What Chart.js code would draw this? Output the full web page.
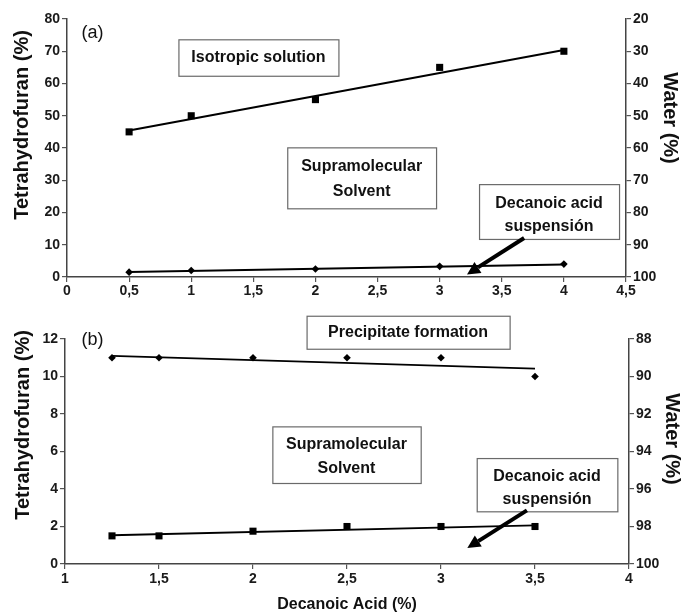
<!DOCTYPE html>
<html><head><meta charset="utf-8">
<script src="https://cdn.jsdelivr.net/npm/chart.js@4"></script>
<style>
html,body{margin:0;padding:0;background:#fff;}
#wrap{position:relative;width:684px;height:614px;}
canvas{position:absolute;left:0;}
#c1{top:0}
#c2{top:300px}
</style></head><body>
<div id="wrap"><canvas id="c1" width="684" height="300"></canvas><canvas id="c2" width="684" height="314"></canvas></div>
<script>
// ---------- data ----------
const topAcid = [0.5, 1, 2, 3, 4];
const topIsotropicTHF = [45, 50, 55, 65, 70];
const topSuspensionTHF = [1.5, 2, 2.5, 3.3, 4];
const topTrendAcid = [0.5, 4];
const topIsotropicTrend = [45.4, 70.4];
const topSuspensionTrend = [1.55, 3.9];

const bottomAcid = [1.25, 1.5, 2, 2.5, 3, 3.5];
const bottomPrecipitateTHF = [11, 11, 11, 11, 11, 10];
const bottomSuspensionTHF = [1.5, 1.5, 1.75, 2, 2, 2];
const bottomTrendAcid = [1.25, 3.5];
const bottomPrecipitateTrend = [11.1, 10.42];
const bottomSuspensionTrend = [1.53, 2.06];

// tick values
const topXTicks = [0, 0.5, 1, 1.5, 2, 2.5, 3, 3.5, 4, 4.5];
const topYTicks = [0, 10, 20, 30, 40, 50, 60, 70, 80];
const topWaterTicks = [20, 30, 40, 50, 60, 70, 80, 90, 100];
const bottomXTicks = [1, 1.5, 2, 2.5, 3, 3.5, 4];
const bottomYTicks = [0, 2, 4, 6, 8, 10, 12];
const bottomWaterTicks = [88, 90, 92, 94, 96, 98, 100];

// ---------- helpers ----------
const FONT = "'Liberation Sans', Arial, Helvetica, sans-serif";
const fmt = v => (Math.round(v * 100) / 100).toString().replace('.', ',');
const pts = (xs, ys) => xs.map((x, i) => ({x, y: ys[i]}));

function axisY(ticks, pos, extra) {
  return Object.assign({
    type: 'linear', position: pos,
    min: ticks[0], max: ticks[ticks.length - 1],
    afterBuildTicks: s => { s.ticks = ticks.map(v => ({value: v})); },
    ticks: {font: {family: FONT, size: 14, weight: 'bold'}, color: '#1a1a1a', padding: 2, callback: v => fmt(v)},
    grid: {drawOnChartArea: false, drawTicks: true, tickLength: 5, color: '#555', lineWidth: 1.2},
    border: {display: true, color: '#444', width: 1.5}
  }, extra || {});
}
function axisX(ticks, pad, h, title) {
  return {
    type: 'linear', position: 'bottom',
    min: ticks[0], max: ticks[ticks.length - 1],
    afterBuildTicks: s => { s.ticks = ticks.map(v => ({value: v})); },
    afterFit: s => { s.height = h; },
    ticks: {font: {family: FONT, size: 14, weight: 'bold'}, color: '#1a1a1a', padding: pad, maxRotation: 0, autoSkip: false, callback: v => fmt(v)},
    grid: {drawOnChartArea: false, drawTicks: true, tickLength: 5, color: '#555', lineWidth: 1.2},
    border: {display: true, color: '#444', width: 1.5},
    title: title ? {display: true, text: title, font: {family: FONT, size: 16, weight: 'bold'}, color: '#111', padding: {top: 0, bottom: 0}} : {display: false}
  };
}

function annotations(cfg) {
  return {
    id: 'annot',
    afterDatasetsDraw(chart) {
      const ctx = chart.ctx, xs = chart.scales.x, ys = chart.scales.y;
      const px = v => xs.getPixelForValue(v), py = v => ys.getPixelForValue(v);
      ctx.save();
      cfg.boxes.forEach(b => {
        const x0 = px(b.x0), x1 = px(b.x1), y0 = py(b.y0), y1 = py(b.y1);
        ctx.fillStyle = '#fff';
        ctx.fillRect(x0, y0, x1 - x0, y1 - y0);
        ctx.strokeStyle = '#6a6a6a'; ctx.lineWidth = 1.2;
        ctx.strokeRect(x0 + 0.5, y0 + 0.5, x1 - x0, y1 - y0);
        ctx.fillStyle = '#111';
        ctx.font = 'bold 16px ' + FONT;
        ctx.textAlign = 'center'; ctx.textBaseline = 'middle';
        b.lines.forEach(l => ctx.fillText(l.t, px(l.x), py(l.y)));
      });
      cfg.arrows.forEach(a => {
        const x0 = px(a.x0), y0 = py(a.y0), x1 = px(a.x1), y1 = py(a.y1);
        const ang = Math.atan2(y1 - y0, x1 - x0), hl = 13, hw = 6.5;
        const bx = x1 - Math.cos(ang) * hl, by = y1 - Math.sin(ang) * hl;
        ctx.strokeStyle = '#000'; ctx.lineWidth = 4; ctx.lineCap = 'butt';
        ctx.beginPath(); ctx.moveTo(x0, y0); ctx.lineTo(bx, by); ctx.stroke();
        ctx.fillStyle = '#000';
        ctx.beginPath();
        ctx.moveTo(x1, y1);
        ctx.lineTo(bx + Math.sin(ang) * hw, by - Math.cos(ang) * hw);
        ctx.lineTo(bx - Math.sin(ang) * hw, by + Math.cos(ang) * hw);
        ctx.closePath(); ctx.fill();
      });
      ctx.fillStyle = '#111';
      ctx.font = '18px ' + FONT;
      ctx.textAlign = 'center'; ctx.textBaseline = 'middle';
      ctx.fillText(cfg.panel.t, px(cfg.panel.x), py(cfg.panel.y));
      ctx.restore();
    },
    afterDraw(chart) {
      const ctx = chart.ctx;
      ctx.save();
      ctx.fillStyle = '#111';
      ctx.font = 'bold 20px ' + FONT;
      ctx.textAlign = 'center'; ctx.textBaseline = 'middle';
      cfg.titles.forEach(t => {
        ctx.save(); ctx.translate(t.x, t.y); ctx.rotate(t.rot); ctx.fillText(t.t, 0, 0); ctx.restore();
      });
      ctx.restore();
    }
  };
}

function datasets(xs, a, b, tx, ta, tb, styleA, styleB) {
  const mk = (data, style) => ({data: pts(xs, data), showLine: false, pointStyle: style, pointRadius: style === 'rect' ? 5 : 3.8,
    pointBackgroundColor: '#000', pointBorderColor: '#000', pointBorderWidth: 0, borderColor: '#000'});
  const tr = data => ({data: pts(tx, data), showLine: true, pointRadius: 0, borderColor: '#000', borderWidth: 2, fill: false});
  return [tr(ta), tr(tb), mk(a, styleA), mk(b, styleB)];
}

const common = {
  responsive: false, animation: false, devicePixelRatio: 1,
  plugins: {legend: {display: false}, tooltip: {enabled: false}}
};

// ---------- top panel (a) ----------
new Chart(document.getElementById('c1'), {
  type: 'scatter',
  data: {datasets: datasets(topAcid, topIsotropicTHF, topSuspensionTHF, topTrendAcid, topIsotropicTrend, topSuspensionTrend, 'rect', 'rectRot')},
  options: Object.assign({}, common, {
    layout: {padding: {top: 19, left: 0, right: 0, bottom: 0}},
    scales: {
      x: axisX(topXTicks, 1, 23, null),
      y: axisY(topYTicks, 'left', {afterFit: s => { s.width = 67; }}),
      y2: axisY(topWaterTicks, 'right', {reverse: true, afterFit: s => { s.width = 58; }})
    }
  }),
  plugins: [annotations({
    boxes: [
      {x0: 0.897, x1: 2.185, y0: 73.7, y1: 62.4, lines: [{t: 'Isotropic solution', x: 1.541, y: 68.0}]},
      {x0: 1.773, x1: 2.971, y0: 40.2, y1: 21.3, lines: [{t: 'Supramolecular', x: 2.372, y: 34.2}, {t: 'Solvent', x: 2.372, y: 26.4}]},
      {x0: 3.317, x1: 4.444, y0: 28.8, y1: 11.8, lines: [{t: 'Decanoic acid', x: 3.88, y: 22.9}, {t: 'suspensión', x: 3.88, y: 15.6}]}
    ],
    arrows: [{x0: 3.68, y0: 12.1, x1: 3.22, y1: 0.8}],
    panel: {t: '(a)', x: 0.205, y: 75.6},
    titles: [
      {t: 'Tetrahydrofuran (%)', x: 22, y: 125, rot: -Math.PI / 2},
      {t: 'Water (%)', x: 670, y: 118, rot: Math.PI / 2}
    ]
  })]
});

// ---------- bottom panel (b) ----------
new Chart(document.getElementById('c2'), {
  type: 'scatter',
  data: {datasets: datasets(bottomAcid, bottomPrecipitateTHF, bottomSuspensionTHF, bottomTrendAcid, bottomPrecipitateTrend, bottomSuspensionTrend, 'rectRot', 'rect')},
  options: Object.assign({}, common, {
    layout: {padding: {top: 39, left: 0, right: 0, bottom: 0}},
    scales: {
      x: axisX(bottomXTicks, 2, 50, 'Decanoic Acid (%)'),
      y: axisY(bottomYTicks, 'left', {afterFit: s => { s.width = 65; }}),
      y2: axisY(bottomWaterTicks, 'right', {reverse: true, afterFit: s => { s.width = 55; }})
    }
  }),
  plugins: [annotations({
    boxes: [
      {x0: 2.285, x1: 3.365, y0: 13.24, y1: 11.48, lines: [{t: 'Precipitate formation', x: 2.825, y: 12.36}]},
      {x0: 2.103, x1: 2.892, y0: 7.34, y1: 4.32, lines: [{t: 'Supramolecular', x: 2.497, y: 6.36}, {t: 'Solvent', x: 2.497, y: 5.08}]},
      {x0: 3.19, x1: 3.938, y0: 5.65, y1: 2.81, lines: [{t: 'Decanoic acid', x: 3.564, y: 4.64}, {t: 'suspensión', x: 3.564, y: 3.45}]}
    ],
    arrows: [{x0: 3.457, y0: 2.86, x1: 3.14, y1: 0.85}],
    panel: {t: '(b)', x: 1.146, y: 11.94},
    titles: [
      {t: 'Tetrahydrofuran (%)', x: 23, y: 125, rot: -Math.PI / 2},
      {t: 'Water (%)', x: 672, y: 139, rot: Math.PI / 2}
    ]
  })]
});
</script>
</body></html>
